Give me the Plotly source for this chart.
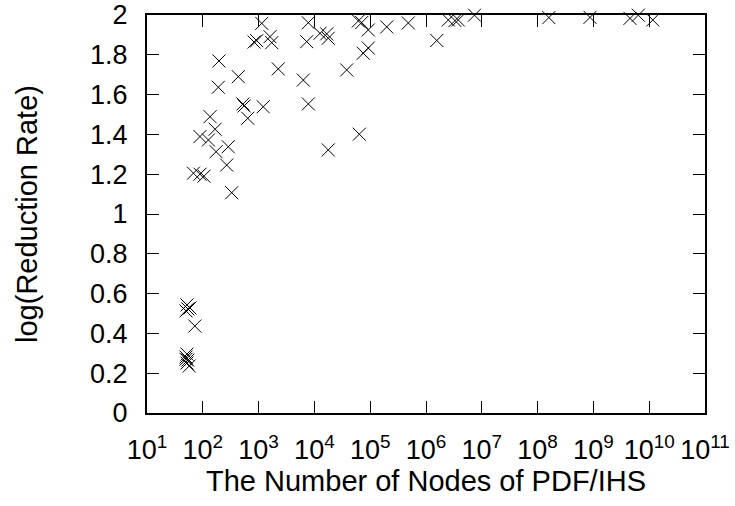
import plotly.graph_objects as go

# Number of nodes of PDF/IHS for each instance
nodes = [
    52, 59, 50, 54, 52, 50, 54, 52, 57, 50, 72,
    195, 433, 190, 2250, 6320, 7780, 525, 550, 1210, 135, 640, 166, 89,
    126, 286, 173, 268, 68, 89, 105, 330, 17700,
    1140, 925, 830, 1600, 1720, 7780, 7280, 12600, 16600, 17700,
    61200, 70500, 92500, 198000, 482000, 1560000, 92500, 75200, 37900, 63800,
    2510000, 3310000, 3790000, 7400000, 1.59e8, 8.69e8, 4.53e9, 6.38e9, 1.16e10,
]
# log of the reduction rate for the same instances
log_rate = [
    0.543, 0.528, 0.513, 0.523, 0.296, 0.281, 0.266, 0.251, 0.236, 0.27, 0.437,
    1.769, 1.690, 1.637, 1.729, 1.673, 1.553, 1.553, 1.543, 1.539, 1.489, 1.481, 1.426, 1.389,
    1.372, 1.338, 1.313, 1.246, 1.205, 1.200, 1.190, 1.107, 1.322,
    1.958, 1.871, 1.864, 1.891, 1.861, 1.961, 1.866, 1.908, 1.905, 1.883,
    1.970, 1.962, 1.925, 1.940, 1.960, 1.872, 1.834, 1.808, 1.724, 1.401,
    1.975, 1.972, 1.975, 1.999, 1.987, 1.988, 1.983, 1.999, 1.975,
]

x_exponents = list(range(1, 12))
x_tickvals = [10 ** e for e in x_exponents]
x_ticktext = ["10<sup>%d</sup>" % e for e in x_exponents]
y_tickvals = [i / 5 for i in range(11)]
y_ticktext = ["0", "0.2", "0.4", "0.6", "0.8", "1", "1.2", "1.4", "1.6", "1.8", "2"]

FONT = "Liberation Sans"
TICK_FONT = dict(family=FONT, size=27, color="black")
TITLE_FONT = dict(family=FONT, size=29, color="black")

fig = go.Figure()
fig.add_trace(go.Scatter(
    x=nodes, y=log_rate, mode="markers",
    cliponaxis=False,
    marker=dict(symbol="x-thin-open", size=13, color="black",
                line=dict(color="black", width=1)),
    showlegend=False,
))

fig.update_xaxes(
    type="log", range=[1, 11],
    tickmode="array", tickvals=x_tickvals, ticktext=x_ticktext,
    tickfont=TICK_FONT, ticklabelstandoff=12,
    title=dict(text="The Number of Nodes of PDF/IHS", font=TITLE_FONT, standoff=6),
    showline=True, linecolor="black", linewidth=2, mirror="allticks",
    ticks="inside", ticklen=12, tickwidth=1, tickcolor="black",
    showgrid=False, zeroline=False,
)
fig.update_yaxes(
    range=[0, 2],
    tickmode="array", tickvals=y_tickvals, ticktext=y_ticktext,
    tickfont=TICK_FONT, ticklabelstandoff=12,
    title=dict(text="log(Reduction Rate)", font=TITLE_FONT, standoff=44),
    showline=True, linecolor="black", linewidth=2, mirror="allticks",
    ticks="inside", ticklen=12, tickwidth=1, tickcolor="black",
    showgrid=False, zeroline=False,
)

fig.update_layout(
    width=735, height=506,
    margin=dict(l=147, r=30, t=15, b=93, autoexpand=False),
    font=dict(family=FONT, size=27, color="black"),
    paper_bgcolor="white", plot_bgcolor="white",
)

fig.write_html("out.html")
